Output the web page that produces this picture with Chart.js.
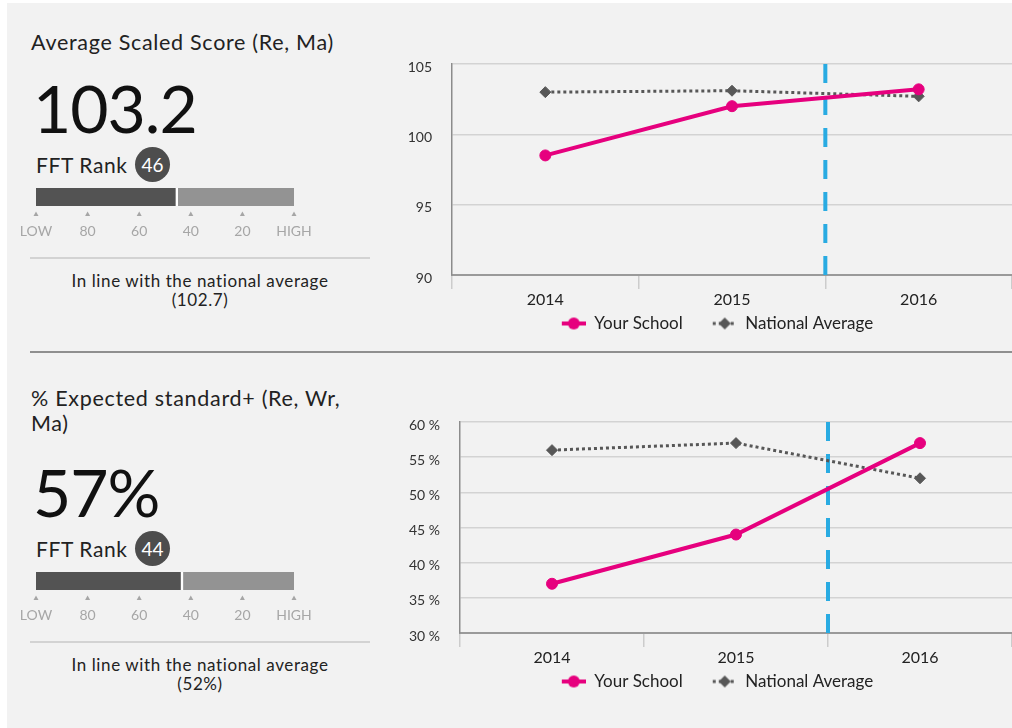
<!DOCTYPE html>
<html>
<head>
<meta charset="utf-8">
<script src="https://cdn.jsdelivr.net/npm/chart.js@4"></script>
<style>
  body { margin: 0; width: 1012px; height: 728px; overflow: hidden; background: #fff; font-family: Lato, sans-serif; position: relative; }
  #panel { position: absolute; left: 7px; top: 3px; right: 0; bottom: 0; background: #f2f2f2; }
  .abs { position: absolute; }
  .title { left: 31px; font-size: 21.5px; letter-spacing: 0.7px; color: #222; line-height: 25px; }
  .big { left: 33px; font-size: 66px; line-height: 1; color: #111; letter-spacing: -1px; }
  .rank { left: 36px; font-size: 21px; letter-spacing: 0.6px; line-height: 1; color: #222; }
  .badge { left: 135px; width: 35px; height: 35px; border-radius: 50%; background: #4d4d4d; color: #fff; font-size: 19px; line-height: 35px; text-align: center; }
  .thin { left: 30px; width: 340px; height: 2px; background: #d3d3d3; }
  .note { left: 30px; width: 340px; font-size: 17px; letter-spacing: 0.6px; line-height: 19px; text-align: center; color: #222; }
  #divider { left: 30px; right: 0; top: 351px; height: 2px; background: #8f8f8f; }
</style>
</head>
<body>
<div id="panel"></div>

<div class="abs title" style="top:30px">Average Scaled Score (Re, Ma)</div>
<div class="abs big" id="big1" style="top:75px"></div>
<div class="abs rank" style="top:154px">FFT Rank</div>
<div class="abs badge" id="badge1" style="top:147px"></div>
<canvas class="abs" id="gauge1" width="300" height="64" style="left:16px;top:180px"></canvas>
<div class="abs thin" style="top:257px"></div>
<div class="abs note" id="note1" style="top:271px"></div>
<canvas class="abs" id="trend1" width="609" height="302" style="left:403px;top:40px"></canvas>

<div class="abs" id="divider"></div>

<div class="abs title" style="top:386px">% Expected standard+ (Re, Wr,<br>Ma)</div>
<div class="abs big" id="big2" style="top:459px"></div>
<div class="abs rank" style="top:538px">FFT Rank</div>
<div class="abs badge" id="badge2" style="top:531px"></div>
<canvas class="abs" id="gauge2" width="300" height="64" style="left:16px;top:564px"></canvas>
<div class="abs thin" style="top:641px"></div>
<div class="abs note" id="note2" style="top:655px"></div>
<canvas class="abs" id="trend2" width="609" height="302" style="left:403px;top:398px"></canvas>

<script>
// chart data
const years = ['2014', '2015', '2016'];
const seriesNames = ['Your School', 'National Average'];

const scoreSchool = [98.5, 102.0, 103.2];
const scoreNational = [103.0, 103.1, 102.7];
const scoreTicks = [90, 95, 100, 105];
const scoreRank = 46;

const pctSchool = [37, 44, 57];
const pctNational = [56, 57, 52];
const pctTicks = [30, 35, 40, 45, 50, 55, 60];
const pctRank = 44;

const rankTickLabels = ['LOW', '80', '60', '40', '20', 'HIGH'];
const dividerAfter = '2015';

const pink = '#e6007e';
const grey = '#575757';

Chart.defaults.font.family = 'Lato, sans-serif';
Chart.defaults.color = '#222';

// headline texts come from the series
const last = years.length - 1;
document.getElementById('big1').textContent = scoreSchool[last].toFixed(1);
document.getElementById('badge1').textContent = scoreRank;
document.getElementById('note1').innerHTML = 'In line with the national average<br>(' + scoreNational[last].toFixed(1) + ')';
document.getElementById('big2').textContent = pctSchool[last] + '%';
document.getElementById('badge2').textContent = pctRank;
document.getElementById('note2').innerHTML = 'In line with the national average<br>(' + pctNational[last] + '%)';

// legend icons: line + marker
function legendIcon(kind) {
    const c = document.createElement('canvas');
    c.width = 44; c.height = 16;
    const g = c.getContext('2d');
    const cy = 8, cx = 32;
    g.lineWidth = kind === 'school' ? 4 : 3;
    g.strokeStyle = kind === 'school' ? pink : grey;
    if (kind !== 'school') g.setLineDash([3, 3]);
    g.beginPath(); g.moveTo(20, cy); g.lineTo(44, cy); g.stroke();
    g.setLineDash([]);
    g.fillStyle = kind === 'school' ? pink : grey;
    g.beginPath();
    if (kind === 'school') {
        g.arc(cx, cy, 6, 0, Math.PI * 2);
    } else {
        g.moveTo(cx, cy - 6); g.lineTo(cx + 6, cy); g.lineTo(cx, cy + 6); g.lineTo(cx - 6, cy); g.closePath();
    }
    g.fill();
    return c;
}
const legendIcons = [legendIcon('school'), legendIcon('national')];

// blue dashed marker between two years
const dividerLine = {
    id: 'dividerLine',
    beforeDatasetsDraw(chart) {
        const {ctx, chartArea, scales: {x}} = chart;
        const px = x.getPixelForValue(years.indexOf(dividerAfter) + 0.5);
        ctx.save();
        ctx.strokeStyle = '#29abe2';
        ctx.lineWidth = 4;
        ctx.setLineDash([19, 13]);
        ctx.beginPath();
        ctx.moveTo(px, chartArea.top);
        ctx.lineTo(px, chartArea.bottom);
        ctx.stroke();
        ctx.restore();
    }
};

function makeTrend(id, school, national, ticks, suffix, axisWidth) {
    new Chart(document.getElementById(id), {
        type: 'line',
        data: {
            labels: years,
            datasets: [{
                label: seriesNames[0],
                data: school,
                borderColor: pink,
                backgroundColor: pink,
                borderWidth: 4,
                pointStyle: 'circle',
                pointRadius: 5.5,
                pointBorderWidth: 1
            }, {
                label: seriesNames[1],
                data: national,
                borderColor: grey,
                backgroundColor: grey,
                borderWidth: 3,
                borderDash: [3, 3],
                pointStyle: 'rectRot',
                pointRadius: 5.5,
                pointBorderWidth: 1
            }]
        },
        options: {
            responsive: false,
            animation: false,
            layout: { autoPadding: false, padding: { top: 24, left: 0, right: 0, bottom: 0 } },
            plugins: {
                tooltip: { enabled: false },
                legend: {
                    position: 'bottom',
                    labels: {
                        usePointStyle: true,
                        pointStyleWidth: 44,
                        padding: 10,
                        color: '#222',
                        font: { size: 17 },
                        generateLabels(chart) {
                            const items = Chart.defaults.plugins.legend.labels.generateLabels(chart);
                            items.forEach((it, i) => { it.pointStyle = legendIcons[i]; });
                            return items;
                        }
                    }
                }
            },
            scales: {
                x: {
                    offset: true,
                    afterFit(s) { s.height = 30; s.paddingLeft = 0; s.paddingRight = 0; },
                    grid: { offset: true, drawOnChartArea: false, tickLength: 14, color: '#cccccc', lineWidth: 1.5 },
                    border: { color: '#9a9a9a', width: 2 },
                    ticks: { padding: 1, color: '#222', font: { size: 16 } }
                },
                y: {
                    min: ticks[0],
                    max: ticks[ticks.length - 1],
                    afterBuildTicks(s) { s.ticks = ticks.map(v => ({ value: v })); },
                    afterFit(s) { s.width = axisWidth; s.paddingTop = 0; s.paddingBottom = 0; },
                    grid: { color: '#d3d3d3', lineWidth: 1.5, drawTicks: false },
                    border: { color: '#8c8c8c', width: 1.5 },
                    ticks: { padding: 20, labelOffset: 3, color: '#333', font: { size: 14 }, callback: v => v + suffix }
                }
            }
        },
        plugins: [dividerLine]
    });
}

// small triangles above the rank scale labels
const gaugeMarks = {
    id: 'gaugeMarks',
    afterDraw(chart) {
        const {ctx, chartArea, scales: {x}} = chart;
        ctx.save();
        ctx.fillStyle = '#a6a6a6';
        x.ticks.forEach(t => {
            const px = x.getPixelForValue(t.value);
            const y0 = chartArea.bottom + 10;
            ctx.beginPath();
            ctx.moveTo(px - 2.5, y0);
            ctx.lineTo(px + 2.5, y0);
            ctx.lineTo(px, y0 - 4.5);
            ctx.closePath();
            ctx.fill();
        });
        ctx.restore();
    }
};

function makeGauge(id, rank) {
    new Chart(document.getElementById(id), {
        type: 'bar',
        data: {
            labels: ['FFT Rank'],
            datasets: [{
                data: [100 - rank],
                backgroundColor: '#535353',
                barThickness: 18,
                borderWidth: 0
            }, {
                data: [rank],
                backgroundColor: '#939393',
                borderColor: '#ffffff',
                borderWidth: { left: 3, top: 0, right: 0, bottom: 0 },
                borderSkipped: false,
                barThickness: 18
            }]
        },
        options: {
            indexAxis: 'y',
            responsive: false,
            animation: false,
            layout: { autoPadding: false, padding: { left: 20, right: 22, top: 8, bottom: 0 } },
            plugins: { legend: { display: false }, tooltip: { enabled: false } },
            scales: {
                y: { display: false, stacked: true },
                x: {
                    stacked: true,
                    min: 0,
                    max: 100,
                    afterFit(s) { s.height = 38; s.paddingLeft = 0; s.paddingRight = 0; },
                    grid: { display: false, drawTicks: false },
                    border: { display: false },
                    ticks: { stepSize: 20, padding: 17, color: '#a6a6a6', font: { size: 14 }, callback: (v, i) => rankTickLabels[i] }
                }
            }
        },
        plugins: [gaugeMarks]
    });
}

makeTrend('trend1', scoreSchool, scoreNational, scoreTicks, '', 49);
makeTrend('trend2', pctSchool, pctNational, pctTicks, ' %', 57);
makeGauge('gauge1', scoreRank);
makeGauge('gauge2', pctRank);
</script>
</body>
</html>
